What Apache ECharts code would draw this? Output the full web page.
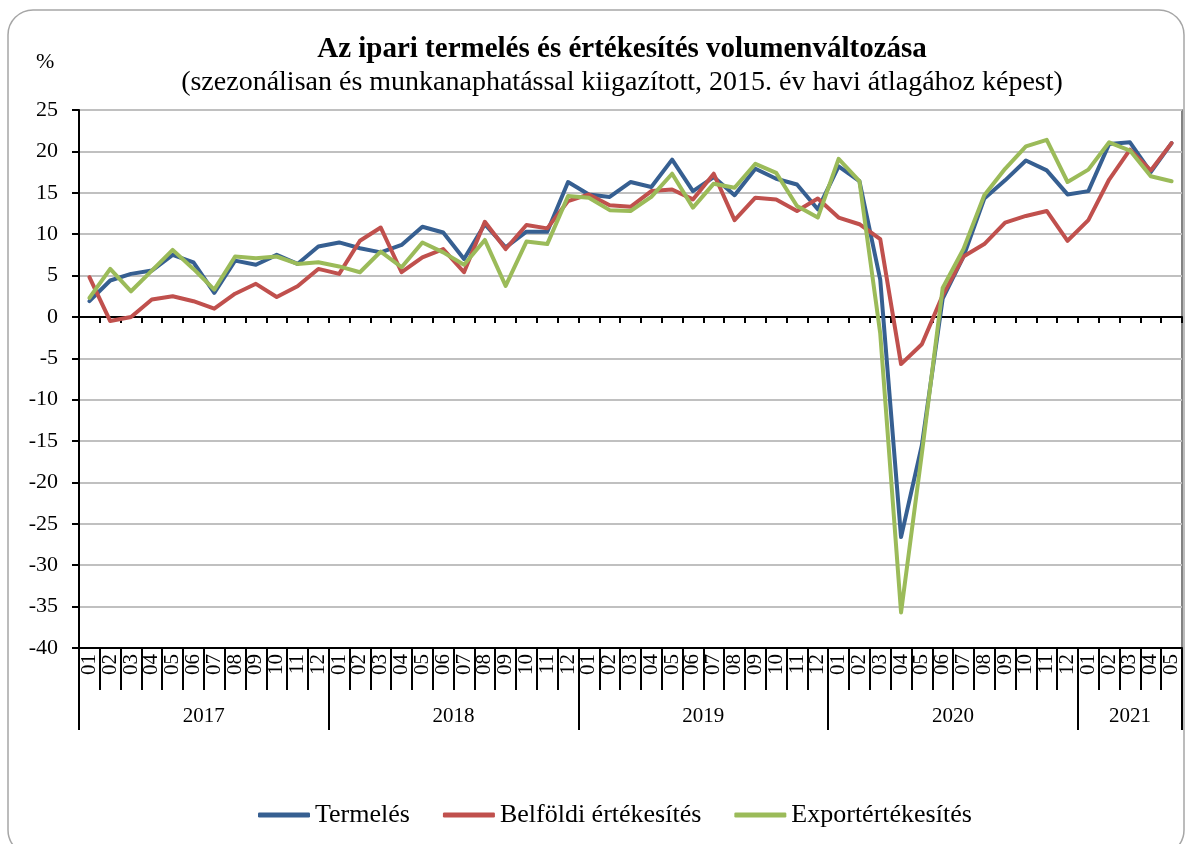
<!DOCTYPE html>
<html>
<head>
<meta charset="utf-8">
<script src="https://cdn.jsdelivr.net/npm/echarts@6/dist/echarts.min.js"></script>
<style>html,body{margin:0;padding:0;background:#fff;}#c{width:1189px;height:844px;}</style>
</head>
<body>
<div id="c"></div>
<script>
// ---- data ----
const yearLabels = ['2017', '2018', '2019', '2020', '2021'];
const yearMonthCounts = [12, 12, 12, 12, 5];
const monthLabels = [
  '01','02','03','04','05','06','07','08','09','10','11','12',
  '01','02','03','04','05','06','07','08','09','10','11','12',
  '01','02','03','04','05','06','07','08','09','10','11','12',
  '01','02','03','04','05','06','07','08','09','10','11','12',
  '01','02','03','04','05'
];
const termeles = [
  1.9, 4.4, 5.2, 5.6, 7.5, 6.6, 2.9, 6.8, 6.3, 7.5, 6.4, 8.5,
  9.0, 8.3, 7.8, 8.7, 10.9, 10.2, 7.0, 11.2, 8.4, 10.3, 10.3, 16.3,
  14.8, 14.5, 16.3, 15.7, 19.0, 15.2, 16.9, 14.7, 17.9, 16.7, 16.0, 13.0,
  18.2, 16.4, 4.5, -26.6, -15.5, 2.2, 7.3, 14.3, 16.5, 18.9, 17.7, 14.8,
  15.2, 20.9, 21.1, 17.5, 21.0
];
const belfoldi = [
  4.8, -0.5, 0.0, 2.1, 2.5, 1.9, 1.0, 2.8, 4.0, 2.4, 3.7, 5.8,
  5.2, 9.2, 10.8, 5.4, 7.2, 8.2, 5.4, 11.5, 8.2, 11.1, 10.7, 14.0,
  14.8, 13.5, 13.3, 15.2, 15.4, 14.2, 17.3, 11.7, 14.4, 14.2, 12.8, 14.3,
  12.0, 11.2, 9.4, -5.7, -3.3, 2.6, 7.3, 8.8, 11.4, 12.2, 12.8, 9.2,
  11.7, 16.6, 20.2, 17.7, 21.0
];
const export_ = [
  2.3, 5.8, 3.1, 5.6, 8.1, 5.8, 3.3, 7.3, 7.1, 7.3, 6.4, 6.6,
  6.1, 5.4, 7.9, 6.0, 9.0, 7.8, 6.3, 9.3, 3.75, 9.1, 8.8, 14.6,
  14.4, 12.9, 12.8, 14.5, 17.3, 13.2, 16.1, 15.6, 18.5, 17.4, 13.4, 12.0,
  19.1, 16.4, -2.0, -35.7, -16.5, 3.5, 8.2, 14.7, 17.9, 20.6, 21.4, 16.3,
  17.8, 21.1, 20.1, 17.0, 16.4
];
const seriesNames = ['Termelés', 'Belföldi értékesítés', 'Exportértékesítés'];

// ---- derived ----
const yearBounds = [0];
yearMonthCounts.forEach(function (n) { yearBounds.push(yearBounds[yearBounds.length - 1] + n); });
const yearCenters = yearMonthCounts.map(function (n, i) { return yearBounds[i] + n / 2; });
const nCat = monthLabels.length;

const FONT = "'Liberation Serif', 'DejaVu Serif', serif";
const chart = echarts.init(document.getElementById('c'), null, {renderer: 'canvas'});

const colors = ['#365f91', '#c0504d', '#9bbb59'];

const option = {
  backgroundColor: '#fff',
  animation: false,
  title: [
    {
      text: 'Az ipari termelés és értékesítés volumenváltozása',
      subtext: '(szezonálisan és munkanaphatással kiigazított, 2015. év havi átlagához képest)',
      left: 617, textAlign: 'center', top: 30, itemGap: 5,
      textStyle: {fontFamily: FONT, fontWeight: 'bold', fontSize: 29, color: '#000'},
      subtextStyle: {fontFamily: FONT, fontSize: 28, color: '#000'}
    },
    {
      text: '%', left: 31, top: 46,
      textStyle: {fontFamily: FONT, fontWeight: 'normal', fontSize: 22, color: '#000'}
    }
  ],
  legend: {
    left: 253, top: 797,
    itemWidth: 52, itemHeight: 5, itemGap: 33,
    icon: 'roundRect',
    textStyle: {fontFamily: FONT, fontSize: 26, color: '#000'},
    data: seriesNames
  },
  grid: {
    left: 79, right: 7, top: 110, bottom: 196,
    show: true, borderColor: '#595959', borderWidth: 1.5,
    containLabel: false
  },
  xAxis: [
    {
      type: 'category', data: monthLabels, position: 'bottom',
      boundaryGap: true,
      axisLine: {onZero: false, lineStyle: {color: '#000', width: 2}},
      axisTick: {show: true, interval: 0, length: 42, lineStyle: {color: '#000', width: 2}},
      axisLabel: {interval: 0, rotate: 90, margin: 6, fontFamily: FONT, fontSize: 21, color: '#000'},
      splitLine: {show: false}
    },
    {
      type: 'value', position: 'bottom', min: 0, max: nCat,
      axisLine: {show: false, onZero: false},
      axisTick: {show: true, customValues: yearBounds, length: 82, lineStyle: {color: '#000', width: 2}},
      axisLabel: {
        customValues: yearCenters, margin: 58, fontFamily: FONT, fontSize: 21, color: '#000',
        formatter: function (v) {
          const i = yearCenters.indexOf(v);
          return i >= 0 ? yearLabels[i] : '';
        }
      },
      splitLine: {show: false}
    },
    {
      type: 'category', data: monthLabels, position: 'bottom',
      boundaryGap: true,
      axisLine: {onZero: true, onZeroAxisIndex: 0, lineStyle: {color: '#000', width: 2}},
      axisTick: {show: true, interval: 0, length: 6, lineStyle: {color: '#000', width: 2}},
      axisLabel: {show: false},
      splitLine: {show: false}
    }
  ],
  yAxis: {
    type: 'value', min: -40, max: 25, interval: 5,
    axisLine: {show: true, onZero: false, lineStyle: {color: '#000', width: 2}},
    axisTick: {show: true, length: 7, lineStyle: {color: '#000', width: 2}},
    axisLabel: {margin: 21, fontFamily: FONT, fontSize: 22, color: '#000'},
    splitLine: {show: true, lineStyle: {color: '#c0c0c0', width: 2}}
  },
  series: [termeles, belfoldi, export_].map(function (d, i) {
    return {
      name: seriesNames[i], type: 'line', data: d, xAxisIndex: 0,
      showSymbol: false, symbol: 'none',
      color: colors[i],
      lineStyle: {color: colors[i], width: 4, cap: 'round', join: 'round'},
      itemStyle: {color: colors[i]},
      z: 3 + i
    };
  }),
  graphic: [{
    type: 'rect', silent: true, z: -1,
    shape: {x: 8, y: 10, width: 1176, height: 845, r: 25},
    style: {fill: 'none', stroke: '#a6a6a6', lineWidth: 1.5}
  }]
};
chart.setOption(option);
</script>
</body>
</html>
